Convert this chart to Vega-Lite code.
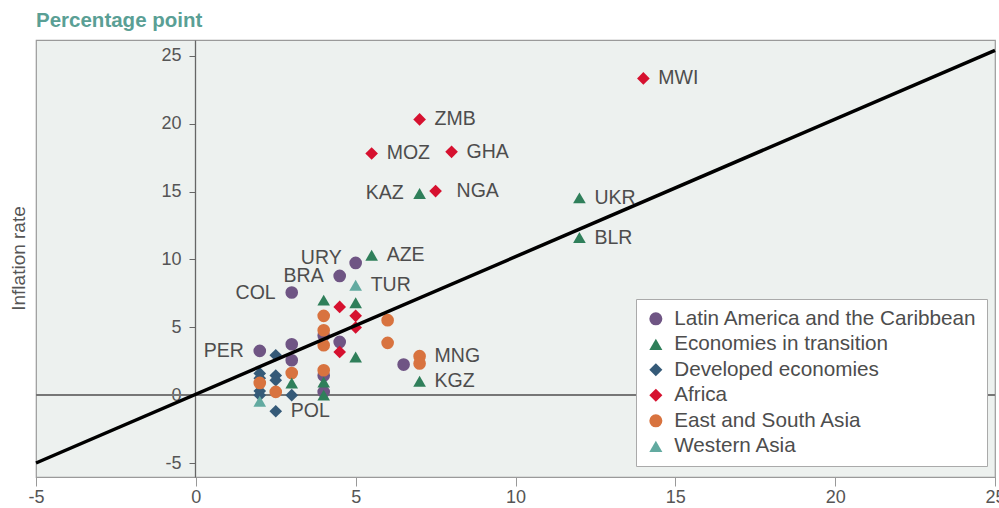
{
  "$schema": "https://vega.github.io/schema/vega-lite/v6.json",
  "width": 959,
  "height": 437,
  "autosize": {"type": "none"},
  "padding": {"left": 36, "top": 40, "right": 4, "bottom": 31},
  "background": "white",
  "config": {
    "view": {"fill": "#edf1ef", "stroke": "#9a9a9a", "strokeWidth": 1.2},
    "font": "Liberation Sans"
  },
  "title": {
    "text": "Percentage point",
    "anchor": "start",
    "frame": "group",
    "fontSize": 20.5,
    "fontWeight": "bold",
    "color": "#5a9f95",
    "offset": 9
  },
  "datasets": {
    "points": [
      {"country": "", "region": "Developed economies", "growth": 2.5, "inflation": 2.94},
      {"country": "", "region": "Developed economies", "growth": 2.5, "inflation": 1.45},
      {"country": "", "region": "Developed economies", "growth": 2.5, "inflation": 1.1},
      {"country": "", "region": "Developed economies", "growth": 2, "inflation": 1.6},
      {"country": "", "region": "Developed economies", "growth": 2, "inflation": 1.25},
      {"country": "", "region": "Developed economies", "growth": 2, "inflation": 0.3},
      {"country": "", "region": "Developed economies", "growth": 2, "inflation": 0.0},
      {"country": "", "region": "Developed economies", "growth": 3, "inflation": 0.0},
      {"country": "POL", "region": "Developed economies", "growth": 2.5, "inflation": -1.19},
      {"country": "URY", "region": "Latin America and the Caribbean", "growth": 5, "inflation": 9.74},
      {"country": "BRA", "region": "Latin America and the Caribbean", "growth": 4.5, "inflation": 8.78},
      {"country": "COL", "region": "Latin America and the Caribbean", "growth": 3, "inflation": 7.56},
      {"country": "PER", "region": "Latin America and the Caribbean", "growth": 2, "inflation": 3.26},
      {"country": "", "region": "Latin America and the Caribbean", "growth": 3, "inflation": 3.75},
      {"country": "", "region": "Latin America and the Caribbean", "growth": 3, "inflation": 2.57},
      {"country": "", "region": "Latin America and the Caribbean", "growth": 4, "inflation": 4.4},
      {"country": "", "region": "Latin America and the Caribbean", "growth": 4, "inflation": 1.45},
      {"country": "", "region": "Latin America and the Caribbean", "growth": 4, "inflation": 0.24},
      {"country": "", "region": "Latin America and the Caribbean", "growth": 6.5, "inflation": 2.25},
      {"country": "", "region": "East and South Asia", "growth": 4, "inflation": 5.84},
      {"country": "", "region": "East and South Asia", "growth": 4, "inflation": 4.78},
      {"country": "", "region": "East and South Asia", "growth": 4, "inflation": 3.68},
      {"country": "", "region": "East and South Asia", "growth": 4, "inflation": 1.83},
      {"country": "", "region": "East and South Asia", "growth": 6, "inflation": 5.52},
      {"country": "", "region": "East and South Asia", "growth": 6, "inflation": 3.85},
      {"country": "MNG", "region": "East and South Asia", "growth": 7, "inflation": 2.87},
      {"country": "", "region": "East and South Asia", "growth": 7, "inflation": 2.33},
      {"country": "", "region": "East and South Asia", "growth": 3, "inflation": 1.63},
      {"country": "", "region": "East and South Asia", "growth": 2, "inflation": 0.9},
      {"country": "", "region": "East and South Asia", "growth": 2.5, "inflation": 0.24},
      {"country": "", "region": "Latin America and the Caribbean", "growth": 4.5, "inflation": 3.92},
      {"country": "KAZ", "region": "Economies in transition", "growth": 7, "inflation": 14.86},
      {"country": "UKR", "region": "Economies in transition", "growth": 12, "inflation": 14.53},
      {"country": "BLR", "region": "Economies in transition", "growth": 12, "inflation": 11.61},
      {"country": "AZE", "region": "Economies in transition", "growth": 5.5, "inflation": 10.31},
      {"country": "", "region": "Economies in transition", "growth": 4, "inflation": 7.0},
      {"country": "", "region": "Economies in transition", "growth": 5, "inflation": 6.8},
      {"country": "", "region": "Economies in transition", "growth": 5, "inflation": 2.81},
      {"country": "KGZ", "region": "Economies in transition", "growth": 7, "inflation": 1.02},
      {"country": "", "region": "Economies in transition", "growth": 3, "inflation": 0.9},
      {"country": "", "region": "Economies in transition", "growth": 4, "inflation": 0.97},
      {"country": "", "region": "Economies in transition", "growth": 4, "inflation": 0.0},
      {"country": "MWI", "region": "Africa", "growth": 14, "inflation": 23.33},
      {"country": "ZMB", "region": "Africa", "growth": 7, "inflation": 20.31},
      {"country": "MOZ", "region": "Africa", "growth": 5.5, "inflation": 17.8},
      {"country": "GHA", "region": "Africa", "growth": 8, "inflation": 17.92},
      {"country": "NGA", "region": "Africa", "growth": 7.5, "inflation": 15.03},
      {"country": "", "region": "Africa", "growth": 4.5, "inflation": 6.5},
      {"country": "", "region": "Africa", "growth": 5, "inflation": 5.84},
      {"country": "", "region": "Africa", "growth": 5, "inflation": 4.98},
      {"country": "", "region": "Africa", "growth": 4.5, "inflation": 3.18},
      {"country": "TUR", "region": "Western Asia", "growth": 5, "inflation": 8.1},
      {"country": "", "region": "Western Asia", "growth": 2, "inflation": -0.45}
    ],
    "fit": [
      {"growth": -5, "inflation": -5},
      {"growth": 25, "inflation": 25.4}
    ]
  },
  "layer": [
    {
      "data": {"name": "points"},
      "mark": {"type": "rule", "color": "#777777", "strokeWidth": 1.3},
      "encoding": {"y": {"datum": 0, "type": "quantitative"}}
    },
    {
      "data": {"name": "points"},
      "mark": {"type": "point", "filled": true, "opacity": 1, "size": 160, "strokeWidth": 0},
      "encoding": {
        "x": {
          "field": "growth",
          "type": "quantitative",
          "scale": {"domain": [-5, 25], "nice": false, "zero": false},
          "axis": {
            "title": null,
            "values": [-5, 0, 5, 10, 15, 20, 25],
            "labelExpr": "datum.value < 0 ? '-' + abs(datum.value) : '' + datum.value",
            "grid": false,
            "tickSize": 9,
            "tickColor": "#999999",
            "domainColor": "#9a9a9a",
            "labelFontSize": 18,
            "labelColor": "#555555",
            "labelPadding": 2,
            "labelFlush": false
          }
        },
        "y": {
          "field": "inflation",
          "type": "quantitative",
          "scale": {"domain": [-6.03, 26.16], "nice": false, "zero": false},
          "axis": {
            "title": "Inflation rate",
            "offset": -159,
            "values": [-5, 0, 5, 10, 15, 20, 25],
            "labelExpr": "datum.value < 0 ? '-' + abs(datum.value) : '' + datum.value",
            "grid": false,
            "tickSize": 6,
            "tickColor": "#666666",
            "domainColor": "#666666",
            "domainWidth": 1.3,
            "labelFontSize": 18,
            "labelColor": "#555555",
            "labelPadding": 8,
            "titleFontSize": 19,
            "titleFontWeight": "normal",
            "titleColor": "#555555",
            "titleX": -177,
            "titleY": 218,
            "titleAngle": -90,
            "titleAlign": "center",
            "titleBaseline": "middle"
          }
        },
        "color": {
          "field": "region",
          "type": "nominal",
          "scale": {
            "domain": ["Latin America and the Caribbean", "Economies in transition", "Developed economies", "Africa", "East and South Asia", "Western Asia"],
            "range": ["#6f5584", "#2f7f5a", "#355a78", "#d6112f", "#d8733f", "#62aaa0"]
          },
          "legend": {
            "title": null,
            "orient": "none",
            "legendX": 600,
            "legendY": 259,
            "fillColor": "white",
            "strokeColor": "#aaaaaa",
            "padding": 9.5,
            "labelFontSize": 20.7,
            "labelLimit": 500,
            "labelColor": "#4d4d4d",
            "symbolSize": 170,
            "rowPadding": 3.5,
            "labelOffset": 8,
            "cornerRadius": 0,
            "symbolStrokeWidth": 0
          }
        },
        "shape": {
          "field": "region",
          "type": "nominal",
          "scale": {
            "domain": ["Latin America and the Caribbean", "Economies in transition", "Developed economies", "Africa", "East and South Asia", "Western Asia"],
            "range": ["circle", "triangle-up", "diamond", "diamond", "circle", "triangle-up"]
          },
          "legend": {
            "title": null,
            "orient": "none",
            "legendX": 600,
            "legendY": 259,
            "fillColor": "white",
            "strokeColor": "#aaaaaa",
            "padding": 9.5,
            "labelFontSize": 20.7,
            "labelLimit": 500,
            "labelColor": "#4d4d4d",
            "symbolSize": 170,
            "rowPadding": 3.5,
            "labelOffset": 8,
            "cornerRadius": 0,
            "symbolStrokeWidth": 0
          }
        }
      }
    },
    {
      "data": {"name": "fit"},
      "mark": {"type": "line", "color": "black", "strokeWidth": 3.5},
      "encoding": {
        "x": {"field": "growth", "type": "quantitative"},
        "y": {"field": "inflation", "type": "quantitative"}
      }
    },
    {
      "data": {"name": "points"},
      "transform": [{"filter": {"field": "country", "oneOf": ["MWI", "ZMB", "MOZ", "GHA", "UKR", "BLR", "AZE", "TUR", "MNG", "KGZ", "POL"]}}],
      "mark": {"type": "text", "align": "left", "baseline": "middle", "dx": 15, "fontSize": 19.5, "color": "#4d4d4d"},
      "encoding": {
        "x": {"field": "growth", "type": "quantitative"},
        "y": {"field": "inflation", "type": "quantitative"},
        "text": {"field": "country"}
      }
    },
    {
      "data": {"name": "points"},
      "transform": [{"filter": {"field": "country", "equal": "NGA"}}],
      "mark": {"type": "text", "align": "left", "baseline": "middle", "dx": 21, "fontSize": 19.5, "color": "#4d4d4d"},
      "encoding": {
        "x": {"field": "growth", "type": "quantitative"},
        "y": {"field": "inflation", "type": "quantitative"},
        "text": {"field": "country"}
      }
    },
    {
      "data": {"name": "points"},
      "transform": [{"filter": {"field": "country", "oneOf": ["KAZ", "BRA", "COL", "PER"]}}],
      "mark": {"type": "text", "align": "right", "baseline": "middle", "dx": -16, "fontSize": 19.5, "color": "#4d4d4d"},
      "encoding": {
        "x": {"field": "growth", "type": "quantitative"},
        "y": {"field": "inflation", "type": "quantitative"},
        "text": {"field": "country"}
      }
    },
    {
      "data": {"name": "points"},
      "transform": [{"filter": {"field": "country", "equal": "URY"}}],
      "mark": {"type": "text", "align": "right", "baseline": "middle", "dx": -14, "dy": -5, "fontSize": 19.5, "color": "#4d4d4d"},
      "encoding": {
        "x": {"field": "growth", "type": "quantitative"},
        "y": {"field": "inflation", "type": "quantitative"},
        "text": {"field": "country"}
      }
    }
  ]
}
